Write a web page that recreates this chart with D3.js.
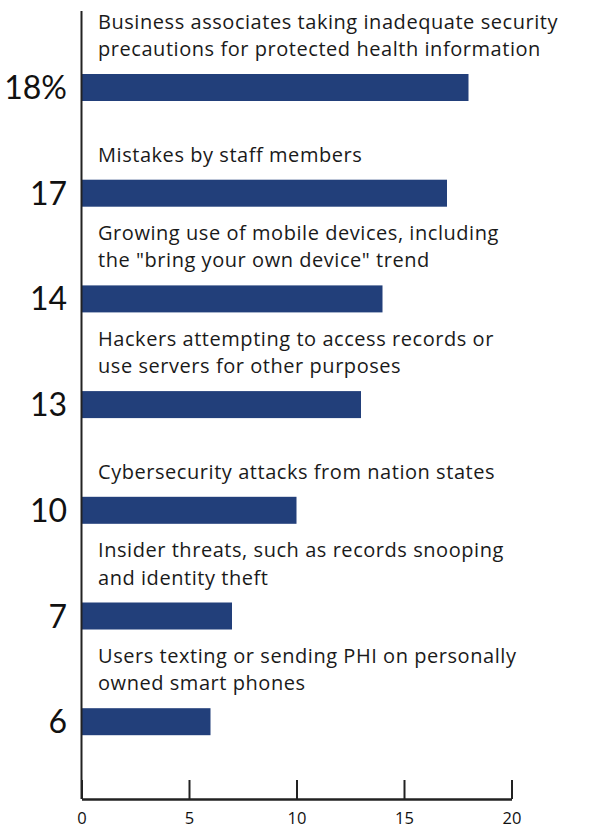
<!DOCTYPE html>
<html>
<head>
<meta charset="utf-8">
<script src="https://cdn.jsdelivr.net/npm/d3@7"></script>
<style>
  html, body { margin: 0; padding: 0; background: #fff; }
  svg { display: block; }
</style>
</head>
<body>
<div id="chart"></div>
<script>
// Survey: top security threats to health information (% of respondents)
const categories = [
  ["Business associates taking inadequate security", "precautions for protected health information"],
  ["Mistakes by staff members"],
  ["Growing use of mobile devices, including", "the \"bring your own device\" trend"],
  ["Hackers attempting to access records or", "use servers for other purposes"],
  ["Cybersecurity attacks from nation states"],
  ["Insider threats, such as records snooping", "and identity theft"],
  ["Users texting or sending PHI on personally", "owned smart phones"]
];
const values = [18, 17, 14, 13, 10, 7, 6];
const valueLabels = ["18%", "17", "14", "13", "10", "7", "6"];
const xTicks = [0, 5, 10, 15, 20];

const width = 594, height = 828;
const axisX = 81.5, axisRight = 511.5, axisTop = 11, baseY = 799;
const barColor = "#223f7a";

const svg = d3.select("#chart").append("svg")
  .attr("width", width).attr("height", height);

const x = d3.scaleLinear().domain([0, 20]).range([axisX, axisRight]);

const idx = d3.range(values.length);
const y = d3.scaleBand().domain(idx).range([22, 22 + 105.7 * values.length]).padding(0);
const barH = 27, barOffset = 52;

const g = svg.append("g");

// bars
g.selectAll("rect.bar").data(idx).join("rect")
  .attr("class", "bar")
  .attr("x", x(0))
  .attr("y", i => y(i) + barOffset)
  .attr("width", i => x(values[i]) - x(0))
  .attr("height", barH)
  .attr("fill", barColor);

// category labels above each bar
const lineH = 27.5;
g.selectAll("text.cat").data(idx).join("text")
  .attr("class", "cat")
  .attr("x", 98)
  .style("font-family", "'Open Sans', sans-serif")
  .style("font-size", "20px")
  .style("letter-spacing", "0.55px")
  .attr("fill", "#1a1a1a")
  .each(function(i) {
    const lines = categories[i];
    const lastBase = y(i) + barOffset - 18;
    d3.select(this).selectAll("tspan").data(lines).join("tspan")
      .attr("x", 98)
      .attr("y", (l, k) => lastBase - (lines.length - 1 - k) * lineH)
      .text(l => l);
  });

// value labels to the left of the axis
g.selectAll("text.val").data(idx).join("text")
  .attr("class", "val")
  .attr("x", 67)
  .attr("y", i => y(i) + barOffset + barH / 2)
  .attr("dy", "0.36em")
  .attr("text-anchor", "end")
  .style("font-family", "Lato, 'Open Sans', sans-serif")
  .style("font-size", "32px")
  .attr("fill", "#111")
  .text(i => valueLabels[i]);

// vertical axis line
svg.append("line")
  .attr("x1", axisX).attr("x2", axisX)
  .attr("y1", axisTop).attr("y2", baseY)
  .attr("stroke", "#222").attr("stroke-width", 2);

// bottom axis with upward ticks
const xAxis = d3.axisBottom(x).tickValues(xTicks).tickSize(0).tickFormat(d3.format("d"));
const ax = svg.append("g").attr("transform", `translate(0,${baseY})`).call(xAxis);
ax.attr("font-size", null).attr("font-family", null);
ax.select(".domain").attr("stroke", "#222").attr("stroke-width", 2.5);
ax.selectAll(".tick line").remove();
ax.selectAll(".tick").append("line")
  .attr("y1", 0).attr("y2", -19)
  .attr("stroke", "#222").attr("stroke-width", 2);
ax.selectAll(".tick text")
  .attr("y", 25)
  .attr("dy", 0)
  .style("font-family", "'Open Sans', sans-serif")
  .style("font-size", "16.5px")
  .attr("fill", "#111");
</script>
</body>
</html>
